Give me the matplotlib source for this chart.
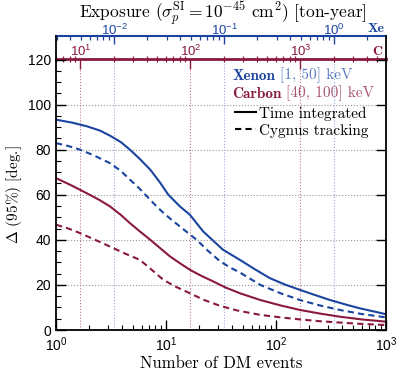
import matplotlib.pyplot as plt
import numpy as np
from matplotlib.lines import Line2D

plt.rcParams['mathtext.fontset'] = 'cm'
plt.rcParams['font.family'] = ['Liberation Sans', 'DejaVu Sans']

# Curves: number of DM events vs angular resolution [deg]
xe_n = [1, 1.4, 1.9, 2.5, 3.1, 3.9, 4.7, 5.8, 7.2, 8.8, 10.5, 13.4, 16.5, 21.8, 27, 33, 47,
        65, 88, 120, 165, 230, 310, 430, 580, 780, 1000]
xe_time = [93.3, 92.0, 90.4, 88.5, 86.2, 83.3, 80, 75.8, 71.1, 65.5, 60, 54.8, 51.1, 43.7,
           39.5, 35.6, 31.1, 26.8, 23, 20.2, 17.8, 15.4, 13.3, 11.3, 9.6, 8.2, 7.0]

xe_cyg_n = [1, 1.3, 1.65, 2.2, 3.1, 3.9, 4.7, 5.7, 6.7, 8, 9.5, 11.3, 13.4, 16, 19, 24, 31,
            38, 47, 72, 110, 165, 250, 380, 600, 1000]
xe_cyg = [82.9, 81.6, 80, 77.5, 74, 70.5, 66.7, 62.9, 59.3, 55.4, 51.9, 48.8, 45.9, 42.9,
          40, 35.2, 30.5, 27.8, 25.5, 20, 16.3, 13.3, 10.9, 8.9, 7.1, 5.6]

c_n = [1, 1.4, 1.9, 2.5, 3.1, 3.9, 4.7, 5.8, 7.2, 8.9, 10.9, 13.4, 16.5, 21, 27, 35, 47,
       72, 110, 165, 250, 380, 600, 1000]
c_time = [67.4, 64.0, 60.7, 57.6, 54.8, 51.0, 47.4, 43.7, 40, 36.2, 32.6, 29.6, 26.7, 24.0,
          21.5, 18.8, 16.3, 13.3, 10.9, 8.9, 7.3, 5.9, 4.7, 3.7]

c_cyg_n = [1, 1.3, 1.65, 2.2, 3.1, 4.2, 5.8, 7.5, 9.5, 12.5, 16.5, 22, 31, 45, 72, 110, 165,
           250, 380, 600, 1000]
c_cyg = [46.7, 45.0, 43, 40.3, 37, 34.0, 31.1, 26.5, 22.2, 19.0, 16.3, 13.4, 10.7, 8.6, 6.7,
         5.6, 4.7, 3.9, 3.3, 2.7, 2.2]

# events per ton-year exposure
xe_rate = 337.0
c_rate = 1 / 6.0

blue = '#1a44a0'
red = '#8a1a3c'

fig = plt.figure(figsize=(4.07, 3.82), dpi=100)
ax = fig.add_axes([56 / 407, 1 - 330 / 382, 330 / 407, 270.5 / 382])

ax.plot(xe_n, xe_time, color=blue, lw=1.5)
ax.plot(xe_cyg_n, xe_cyg, color=blue, lw=1.5, ls=(0, (3, 2)))
ax.plot(c_n, c_time, color=red, lw=1.5)
ax.plot(c_cyg_n, c_cyg, color=red, lw=1.5, ls=(0, (3, 2)))

ax.set_xscale('log')
ax.set_xlim(1, 1000)
ax.set_ylim(0, 120)
ax.set_yticks(np.arange(0, 121, 20))
ax.set_yticks(np.arange(0, 121, 5), minor=True)
ax.tick_params(which='both', direction='in', labelsize=10, top=False)
ax.tick_params(which='major', length=7, width=1, right=True)
ax.tick_params(which='minor', length=3.5, width=0.8, right=False)
ax.tick_params(axis='x', pad=4)
for s in ['left', 'right', 'bottom']:
    ax.spines[s].set_linewidth(1.3)
ax.spines['top'].set_visible(False)

# grid
for v in range(20, 120, 20):
    ax.axhline(v, color='#999999', lw=0.8, ls=':', zorder=0)
for e in [1e-2, 1e-1, 1e0]:
    ax.axvline(e * xe_rate, color='#9aaad8', lw=0.8, ls=':', zorder=0)
for e in [1e1, 1e2, 1e3]:
    ax.axvline(e * c_rate, color='#c07890', lw=0.8, ls=':', zorder=0)

ax.set_xlabel('Number of DM events', family='cmr10', fontsize=12, labelpad=1)
ax.set_ylabel(r'$\Delta$ (95%) [deg.]', family='cmr10', fontsize=11, labelpad=3)

# carbon exposure axis on top spine
sec_c = ax.secondary_xaxis('top', functions=(lambda n: n / c_rate, lambda e: e * c_rate))
sec_c.spines['top'].set_color(red)
sec_c.spines['top'].set_linewidth(2)
sec_c.tick_params(which='both', colors=red, labelsize=9.5, pad=0)
sec_c.tick_params(which='major', direction='in', length=7, width=1)
sec_c.tick_params(which='minor', direction='inout', length=5, width=0.9)

# xenon exposure axis above
loc = 1 + 23.5 / 270.5
sec_x = ax.secondary_xaxis(loc, functions=(lambda n: n / xe_rate, lambda e: e * xe_rate))
sec_x.spines['top'].set_color(blue)
sec_x.spines['top'].set_linewidth(1.5)
sec_x.tick_params(which='both', direction='in', colors=blue, labelsize=9.5, pad=-1.5)
sec_x.tick_params(which='major', length=6, width=1)
sec_x.tick_params(which='minor', length=3, width=0.9)

for xx in [0, 1]:
    ax.plot([xx, xx], [1, loc], transform=ax.transAxes, color='k', lw=1.3, clip_on=False)

ax.text(0.995, loc + 0.004, 'Xe', transform=ax.transAxes, color=blue, family='cmb10',
        fontsize=10, ha='right', va='bottom')
ax.text(0.99, 1.006, 'C', transform=ax.transAxes, color=red, family='cmb10',
        fontsize=10, ha='right', va='bottom')

fig.text(223 / 407, 1 - 17 / 382, r'Exposure ($\sigma_p^{\rm SI} = 10^{-45}$ cm$^2$) [ton-year]',
         family='cmr10', fontsize=12.5, ha='center', va='baseline')

# legend
t1 = ax.text(0.535, 0.912, 'Xenon', transform=ax.transAxes, color=blue, family='cmb10',
             fontsize=11, va='bottom')
ax.annotate('[1, 50] keV', xy=(1, 0), xycoords=t1, xytext=(3, 0), textcoords='offset points',
            color='#5b7cc0', family='cmr10', fontsize=11, va='bottom')
t2 = ax.text(0.535, 0.845, 'Carbon', transform=ax.transAxes, color=red, family='cmb10',
             fontsize=11, va='bottom')
ax.annotate('[40, 100] keV', xy=(1, 0), xycoords=t2, xytext=(3, 0), textcoords='offset points',
            color='#a85570', family='cmr10', fontsize=11, va='bottom')
handles = [Line2D([], [], color='k', lw=1.5), Line2D([], [], color='k', lw=1.5, ls=(0, (3, 2)))]
ax.legend(handles, ['Time integrated', 'Cygnus tracking'], loc='upper left',
          bbox_to_anchor=(0.505, 0.872), frameon=False, handlelength=1.4, handletextpad=0.2,
          labelspacing=0.2, borderpad=0.3, prop={'family': 'cmr10', 'size': 11})

fig.savefig('out.png', dpi=100)
